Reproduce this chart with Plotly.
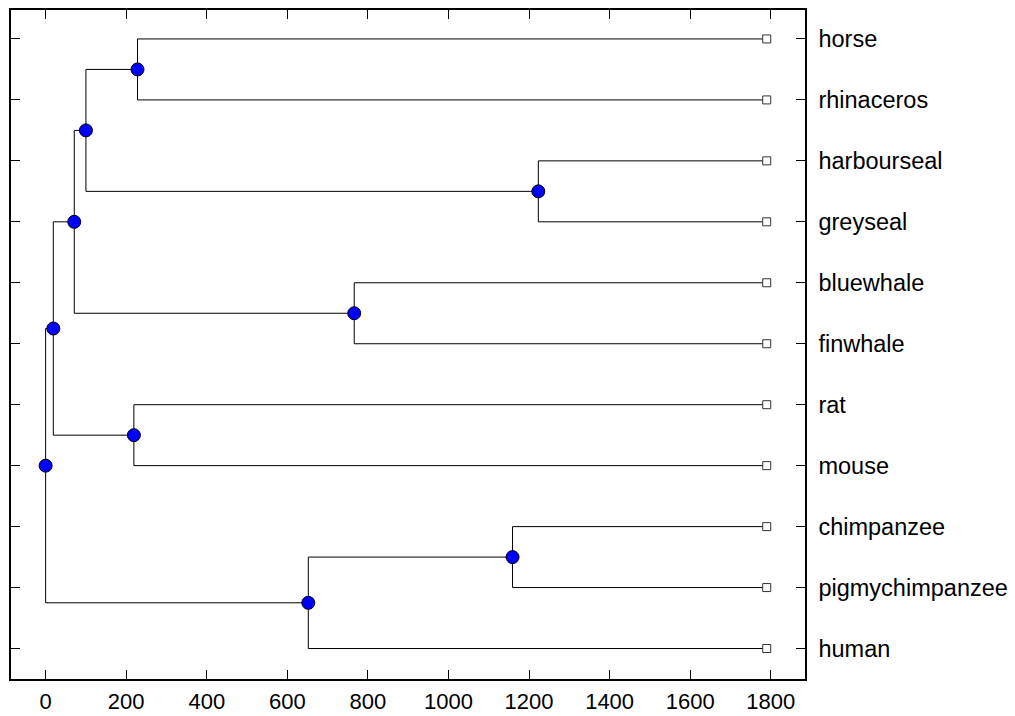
import plotly.graph_objects as go

# Leaf labels, bottom (y=1) to top (y=11)
labels = ["human", "pigmychimpanzee", "chimpanzee", "mouse", "rat", "finwhale",
          "bluewhale", "greyseal", "harbourseal", "rhinaceros", "horse"]
leaf_height = 1790

# Merges: (child a, child b, height); leaves are 0..10, new nodes numbered from 11
merge_a = [9, 7, 5, 3, 1, 11, 13, 14, 0, 18]
merge_b = [10, 8, 6, 4, 2, 12, 16, 17, 15, 19]
merge_h = [228, 1223, 766, 219, 1159, 100, 71, 19, 652, 0]

x_ticks = [0, 200, 400, 600, 800, 1000, 1200, 1400, 1600, 1800]

n = len(labels)
xpos = {i: leaf_height for i in range(n)}
ypos = {i: i + 1 for i in range(n)}
lx, ly = [], []
nx, ny = [], []
for k, (a, b, h) in enumerate(zip(merge_a, merge_b, merge_h)):
    node = n + k
    xpos[node] = h
    ypos[node] = (ypos[a] + ypos[b]) / 2
    # vertical
    lx += [h, h, None]
    ly += [ypos[a], ypos[b], None]
    # horizontals
    for c in (a, b):
        lx += [h, xpos[c], None]
        ly += [ypos[c], ypos[c], None]
    nx.append(h)
    ny.append(ypos[node])

fig = go.Figure()
fig.add_trace(go.Scatter(x=lx, y=ly, mode="lines",
                         line=dict(color="black", width=1), hoverinfo="skip"))
fig.add_trace(go.Scatter(x=[leaf_height] * n, y=[ypos[i] for i in range(n)], mode="markers",
                         marker=dict(symbol="square", size=8, color="white",
                                     line=dict(color="#333333", width=1))))
fig.add_trace(go.Scatter(x=nx, y=ny, mode="markers",
                         marker=dict(symbol="circle", size=13, color="#0000ff",
                                     line=dict(color="black", width=1))))

font = dict(family="Arial, Liberation Sans, sans-serif", color="black")
fig.update_layout(
    width=1015, height=716,
    margin=dict(l=11, r=210, t=10, b=37),
    paper_bgcolor="white", plot_bgcolor="white",
    showlegend=False,
    font=font,
    xaxis=dict(range=[-86, 1885], tickvals=x_ticks, ticks="inside", ticklen=9,
               tickcolor="black", showline=True, linecolor="black", linewidth=1.5,
               mirror="ticks", showgrid=False, zeroline=False, automargin=False,
               ticklabelstandoff=2,
               tickfont=dict(size=22, **font)),
    yaxis=dict(range=[0.5, 11.475], tickvals=list(range(1, n + 1)), ticktext=labels,
               side="right", ticks="inside", ticklen=9, tickcolor="black",
               showline=True, linecolor="black", linewidth=1.5, mirror="ticks",
               showgrid=False, zeroline=False, ticklabelstandoff=7, automargin=False,
               tickfont=dict(size=23.5, **font)),
)
fig.write_html("out.html")
